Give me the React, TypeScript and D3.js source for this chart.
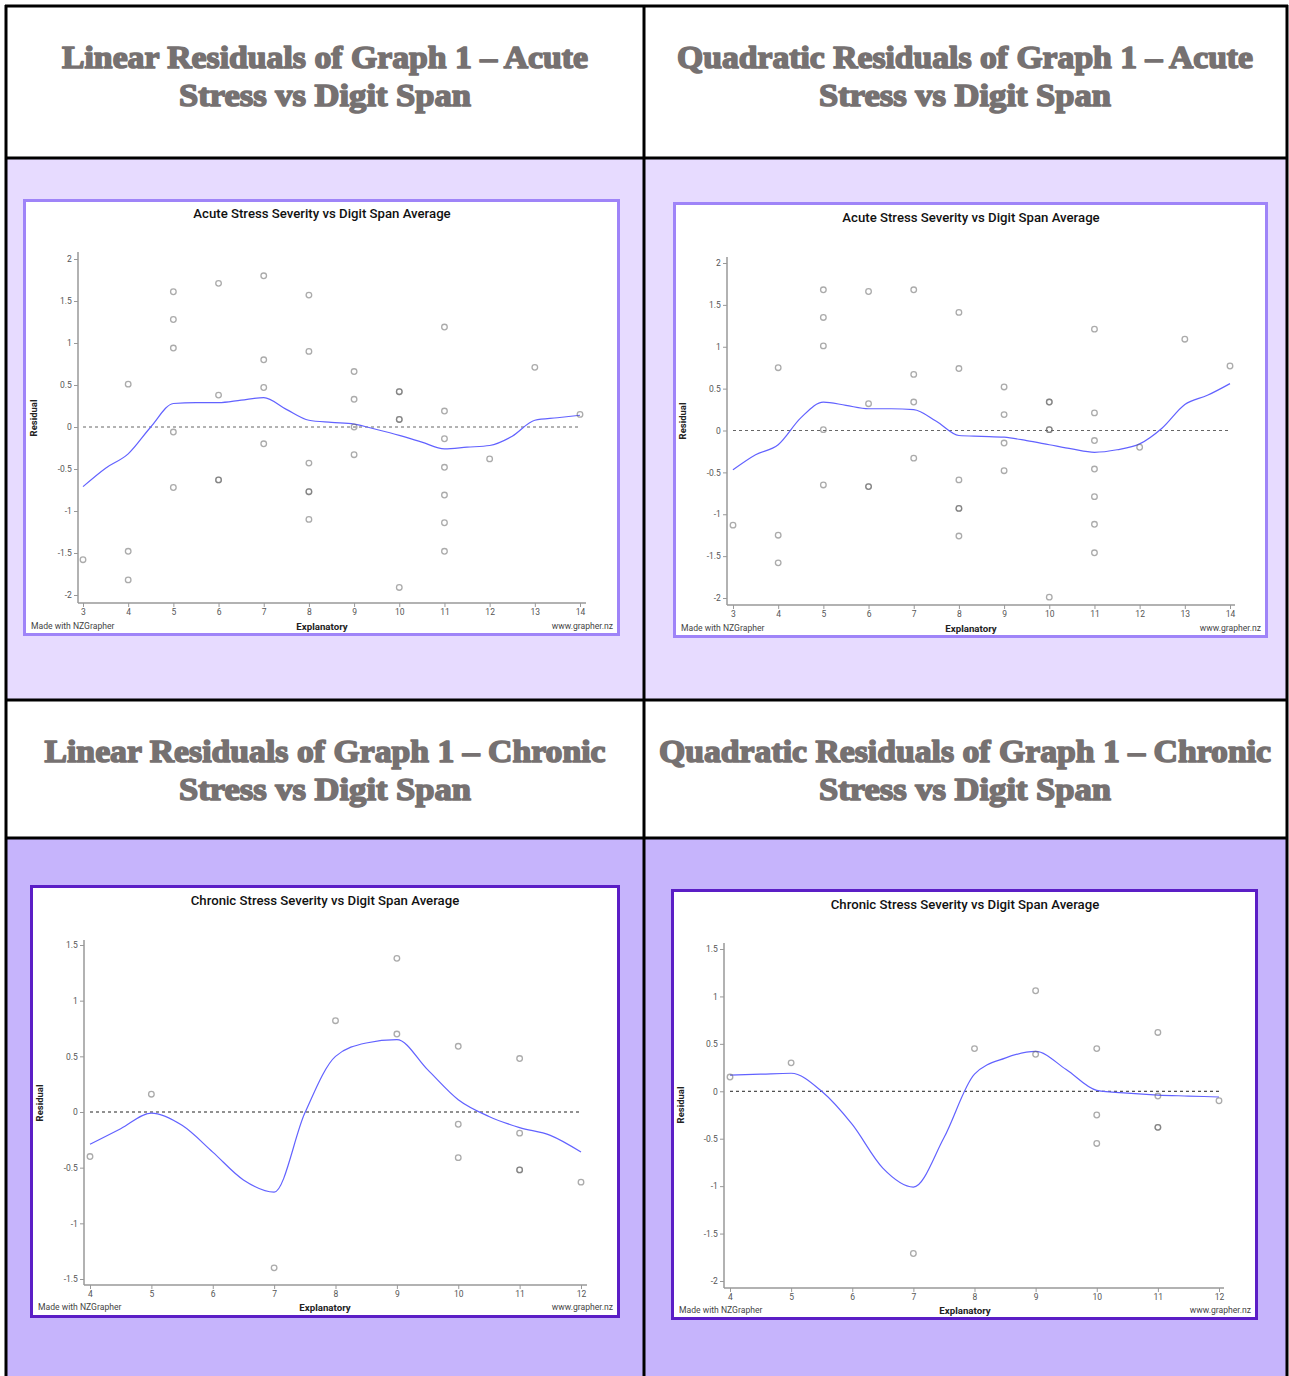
import { useRef, useEffect } from 'react';
import * as d3 from 'd3';

// residual points
const acuteLinX = [3, 4, 4, 4, 5, 5, 5, 5, 5, 6, 6, 6, 6, 7, 7, 7, 7, 8, 8, 8, 8, 8, 8, 9, 9, 9, 9, 10, 10, 10, 10, 10, 11, 11, 11, 11, 11, 11, 11, 12, 13, 14];
const acuteLinY = [-1.58, 0.51, -1.48, -1.82, 1.61, 1.28, 0.94, -0.06, -0.72, 1.71, 0.38, -0.63, -0.63, 1.80, 0.80, 0.47, -0.20, 1.57, 0.90, -0.43, -0.77, -0.77, -1.10, 0.66, 0.33, 0.0, -0.33, 0.42, 0.42, 0.09, 0.09, -1.91, 1.19, 0.19, -0.14, -0.48, -0.81, -1.14, -1.48, -0.38, 0.71, 0.15];

const acuteQuadX = [3, 4, 4, 4, 5, 5, 5, 5, 5, 6, 6, 6, 6, 7, 7, 7, 7, 8, 8, 8, 8, 8, 8, 9, 9, 9, 9, 10, 10, 10, 10, 10, 11, 11, 11, 11, 11, 11, 11, 12, 13, 14];
const acuteQuadY = [-1.13, 0.75, -1.25, -1.58, 1.68, 1.35, 1.01, 0.01, -0.65, 1.66, 0.32, -0.67, -0.67, 1.68, 0.67, 0.34, -0.33, 1.41, 0.74, -0.59, -0.93, -0.93, -1.26, 0.52, 0.19, -0.15, -0.48, 0.34, 0.34, 0.01, 0.01, -1.99, 1.21, 0.21, -0.12, -0.46, -0.79, -1.12, -1.46, -0.20, 1.09, 0.77];

const chronicLinX = [4, 5, 7, 8, 9, 9, 10, 10, 10, 11, 11, 11, 11, 12];
const chronicLinY = [-0.40, 0.16, -1.40, 0.82, 1.38, 0.70, 0.59, -0.11, -0.41, 0.48, -0.19, -0.52, -0.52, -0.63];

const chronicQuadX = [4, 5, 7, 8, 9, 9, 10, 10, 10, 11, 11, 11, 11, 12];
const chronicQuadY = [0.15, 0.30, -1.71, 0.45, 1.06, 0.39, 0.45, -0.25, -0.55, 0.62, -0.05, -0.38, -0.38, -0.10];

// smoother trend, read every half step
const acuteSmoothX = [3, 3.5, 4, 4.5, 5, 5.5, 6, 6.5, 7, 7.5, 8, 8.5, 9, 9.5, 10, 10.5, 11, 11.5, 12, 12.5, 13, 13.5, 14];
const acuteLinSmooth = [-0.71, -0.49, -0.32, 0.0, 0.28, 0.29, 0.29, 0.32, 0.35, 0.21, 0.08, 0.055, 0.035, -0.03, -0.10, -0.18, -0.26, -0.24, -0.22, -0.11, 0.08, 0.11, 0.14];
const acuteQuadSmooth = [-0.47, -0.29, -0.17, 0.15, 0.34, 0.30, 0.26, 0.26, 0.25, 0.11, -0.06, -0.07, -0.08, -0.12, -0.17, -0.22, -0.26, -0.23, -0.16, 0.03, 0.31, 0.42, 0.56];

const chronicSmoothX = [4, 4.5, 5, 5.5, 6, 6.5, 7, 7.5, 8, 8.5, 9, 9.5, 10, 10.5, 11, 11.5, 12];
const chronicLinSmooth = [-0.29, -0.15, -0.01, -0.12, -0.36, -0.61, -0.72, -0.01, 0.50, 0.62, 0.65, 0.38, 0.11, -0.04, -0.14, -0.21, -0.36];
const chronicQuadSmooth = [0.17, 0.18, 0.19, 0.0, -0.35, -0.81, -1.01, -0.49, 0.18, 0.35, 0.42, 0.23, 0.01, -0.02, -0.04, -0.05, -0.06];

// ticks
const acuteXTicks = [3, 4, 5, 6, 7, 8, 9, 10, 11, 12, 13, 14];
const chronicXTicks = [4, 5, 6, 7, 8, 9, 10, 11, 12];
const acuteYTicks = [-2, -1.5, -1, -0.5, 0, 0.5, 1, 1.5, 2];
const chronicLinYTicks = [-1.5, -1, -0.5, 0, 0.5, 1, 1.5];
const chronicQuadYTicks = [-2, -1.5, -1, -0.5, 0, 0.5, 1, 1.5];

const headings = [
  ['Linear Residuals of Graph 1 \u2013 Acute', 'Stress vs Digit Span'],
  ['Quadratic Residuals of Graph 1 \u2013 Acute', 'Stress vs Digit Span'],
  ['Linear Residuals of Graph 1 \u2013 Chronic', 'Stress vs Digit Span'],
  ['Quadratic Residuals of Graph 1 \u2013 Chronic', 'Stress vs Digit Span'],
];
const plotTitles = ['Acute Stress Severity vs Digit Span Average', 'Chronic Stress Severity vs Digit Span Average'];

const ROBOTO = 'Roboto, "Noto Sans", sans-serif';

interface Panel {
  px: number[]; py: number[]; sx: number[]; sy: number[];
  xTicks: number[]; yTicks: number[]; title: string;
  box: [number, number, number, number]; border: string; zeroColor: string;
  xr: [number, number]; yr: [number, number]; axisY: number; axisX: number; top: number; right: number;
  titleY: number; cx: number; resX: number; resY: number; footY: number; madeX: number; wwwX: number;
}

const panels: Panel[] = [
  { px: acuteLinX, py: acuteLinY, sx: acuteSmoothX, sy: acuteLinSmooth, xTicks: acuteXTicks, yTicks: acuteYTicks, title: plotTitles[0],
    box: [23, 199, 597, 437], border: '#9f84f8', zeroColor: '#666',
    xr: [83, 580], yr: [595, 259], axisY: 603, axisX: 78, top: 252, right: 586,
    titleY: 215, cx: 322, resX: 34, resY: 418, footY: 627, madeX: 31, wwwX: 613 },
  { px: acuteQuadX, py: acuteQuadY, sx: acuteSmoothX, sy: acuteQuadSmooth, xTicks: acuteXTicks, yTicks: acuteYTicks, title: plotTitles[0],
    box: [673, 202, 595, 436], border: '#9f84f8', zeroColor: '#666',
    xr: [733, 1230], yr: [598, 263], axisY: 605, axisX: 727, top: 257, right: 1235,
    titleY: 219, cx: 971, resX: 683, resY: 421, footY: 629, madeX: 681, wwwX: 1261 },
  { px: chronicLinX, py: chronicLinY, sx: chronicSmoothX, sy: chronicLinSmooth, xTicks: chronicXTicks, yTicks: chronicLinYTicks, title: plotTitles[1],
    box: [30, 885, 590, 433], border: '#5b1ec6', zeroColor: '#222',
    xr: [90, 581], yr: [1279, 945], axisY: 1285, axisX: 84, top: 940, right: 587,
    titleY: 902, cx: 325, resX: 40, resY: 1103, footY: 1308, madeX: 38, wwwX: 613 },
  { px: chronicQuadX, py: chronicQuadY, sx: chronicSmoothX, sy: chronicQuadSmooth, xTicks: chronicXTicks, yTicks: chronicQuadYTicks, title: plotTitles[1],
    box: [671, 889, 587, 431], border: '#5b1ec6', zeroColor: '#222',
    xr: [730, 1219], yr: [1281, 949], axisY: 1288, axisX: 724, top: 943, right: 1224,
    titleY: 906, cx: 965, resX: 681, resY: 1105, footY: 1311, madeX: 679, wwwX: 1251 },
];

export default function App() {
  const svgRef = useRef<SVGSVGElement>(null);

  useEffect(() => {
    if (!svgRef.current) return;
    const svg = d3.select(svgRef.current);
    svg.selectAll('*').remove();

    // table cells
    svg.append('rect').attr('x', 0).attr('y', 0).attr('width', 1289).attr('height', 1376).attr('fill', '#fff');
    svg.append('rect').attr('x', 6).attr('y', 158).attr('width', 1281).attr('height', 542).attr('fill', '#e7dbff');
    svg.append('rect').attr('x', 6).attr('y', 838).attr('width', 1281).attr('height', 540).attr('fill', '#c6b4fc');

    const grid = svg.append('g').attr('stroke', '#000').attr('stroke-width', 3);
    [6, 644, 1287].forEach(x => grid.append('line').attr('x1', x).attr('x2', x).attr('y1', 5).attr('y2', 1376));
    [6, 158, 700, 838].forEach(y => grid.append('line').attr('x1', 5).attr('x2', 1288).attr('y1', y).attr('y2', y));

    // headings (heavy display serif look)
    const headPos = [[325, 68], [965, 68], [325, 762], [965, 762]];
    const headWidths = [[526, 292], [576, 292], [561, 292], [612, 292]];
    headings.forEach((lines, i) => {
      lines.forEach((t, j) => {
        svg.append('text')
          .attr('x', headPos[i][0]).attr('y', headPos[i][1] + j * 38)
          .attr('text-anchor', 'middle')
          .attr('font-family', '"Liberation Serif", "DejaVu Serif", serif')
          .attr('font-weight', 'bold').attr('font-size', 32)
          .attr('fill', '#767171').attr('stroke', '#767171').attr('stroke-width', 1.6)
          .attr('stroke-linejoin', 'round')
          .attr('textLength', headWidths[i][j]).attr('lengthAdjust', 'spacingAndGlyphs')
          .text(t);
      });
    });

    panels.forEach(p => {
      const g = svg.append('g');
      const [bx, by, bw, bh] = p.box;
      g.append('rect').attr('x', bx + 1.5).attr('y', by + 1.5).attr('width', bw - 3).attr('height', bh - 3)
        .attr('fill', '#fff').attr('stroke', p.border).attr('stroke-width', 3);

      const x = d3.scaleLinear().domain([p.xTicks[0], p.xTicks[p.xTicks.length - 1]]).range(p.xr);
      const y = d3.scaleLinear().domain([p.yTicks[0], p.yTicks[p.yTicks.length - 1]]).range(p.yr);

      // axes
      const xAxis = g.append('g').attr('transform', `translate(0,${p.axisY})`)
        .call(d3.axisBottom(x).tickValues(p.xTicks).tickSize(4).tickSizeOuter(0).tickFormat(d => String(d)));
      xAxis.select('.domain').attr('d', `M${p.axisX},0H${p.right}`).attr('stroke', '#999').attr('stroke-width', 1.5);
      xAxis.selectAll('.tick line').attr('stroke', '#999');
      xAxis.selectAll('text').attr('fill', '#555').attr('font-size', 8.5).attr('font-family', ROBOTO).attr('dy', '0.55em');

      const yAxis = g.append('g').attr('transform', `translate(${p.axisX},0)`)
        .call(d3.axisLeft(y).tickValues(p.yTicks).tickSize(4).tickSizeOuter(0).tickFormat(d => String(d)));
      yAxis.select('.domain').attr('d', `M0,${p.top}V${p.axisY}`).attr('stroke', '#999').attr('stroke-width', 1.5);
      yAxis.selectAll('.tick line').attr('stroke', '#999');
      yAxis.selectAll('text').attr('fill', '#555').attr('font-size', 8.5).attr('font-family', ROBOTO).attr('dx', '0.1em');

      // zero reference
      g.append('line')
        .attr('x1', x(p.xTicks[0])).attr('x2', x(p.xTicks[p.xTicks.length - 1]))
        .attr('y1', y(0)).attr('y2', y(0))
        .attr('stroke', p.zeroColor).attr('stroke-width', 1).attr('stroke-dasharray', '3,3');

      // trend
      const line = d3.line<number>().x((_, i) => x(p.sx[i])).y(d => y(d)).curve(d3.curveMonotoneX);
      g.append('path').attr('d', line(p.sy)).attr('fill', 'none').attr('stroke', '#6262ff').attr('stroke-width', 1.2);

      // points
      g.selectAll('.pt').data(p.py).join('circle')
        .attr('cx', (_, i) => x(p.px[i])).attr('cy', d => y(d)).attr('r', 2.8)
        .attr('fill', 'none').attr('stroke', '#666').attr('stroke-opacity', 0.55).attr('stroke-width', 1.3);

      // labels
      g.append('text').attr('x', p.cx).attr('y', p.titleY).attr('text-anchor', 'middle').attr('dominant-baseline', 'middle')
        .attr('font-family', ROBOTO).attr('font-weight', 500).attr('font-size', 13.2).attr('fill', '#111').text(p.title);
      g.append('text').attr('transform', `translate(${p.resX},${p.resY}) rotate(-90)`).attr('text-anchor', 'middle')
        .attr('dominant-baseline', 'middle').attr('font-family', ROBOTO).attr('font-weight', 'bold').attr('font-size', 9.5)
        .attr('fill', '#222').text('Residual');
      g.append('text').attr('x', p.cx).attr('y', p.footY).attr('text-anchor', 'middle').attr('dominant-baseline', 'middle')
        .attr('font-family', ROBOTO).attr('font-weight', 'bold').attr('font-size', 9.7).attr('fill', '#222').text('Explanatory');
      g.append('text').attr('x', p.madeX).attr('y', p.footY).attr('dominant-baseline', 'middle')
        .attr('font-family', ROBOTO).attr('font-size', 8.6).attr('fill', '#444').text('Made with NZGrapher');
      g.append('text').attr('x', p.wwwX).attr('y', p.footY).attr('text-anchor', 'end').attr('dominant-baseline', 'middle')
        .attr('font-family', ROBOTO).attr('font-size', 8.6).attr('fill', '#444').text('www.grapher.nz');
    });
  }, []);

  return (
    <svg ref={svgRef} width={1289} height={1376}
      style={{ position: 'absolute', left: 0, top: 0, display: 'block' }} />
  );
}
